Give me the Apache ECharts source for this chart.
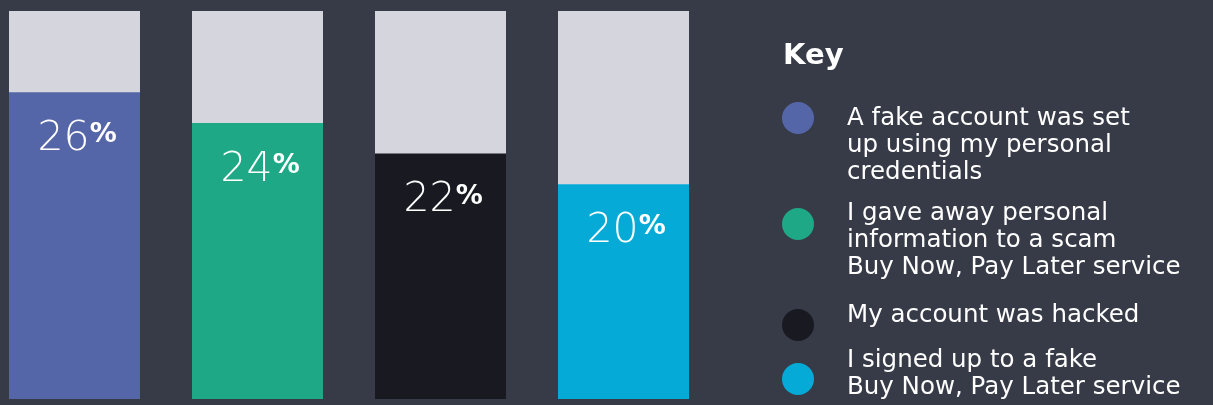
<!DOCTYPE html>
<html><head><meta charset="utf-8">
<script src="https://cdn.jsdelivr.net/npm/echarts@6/dist/echarts.min.js"></script>
<style>html,body{margin:0;padding:0;background:#373B47;}#c{width:1213px;height:405px;}</style>
</head><body><div id="c"></div>
<script>
const categories = ['fake-account', 'gave-info', 'hacked', 'signed-up'];
const values = [26, 24, 22, 20];
const colors = ['#5566A8', '#1FA886', '#191A21', '#05ABD6'];
const keyTitle = 'Key';
const keyLabels = [
  'A fake account was set\nup using my personal\ncredentials',
  'I gave away personal\ninformation to a scam\nBuy Now, Pay Later service',
  'My account was hacked',
  'I signed up to a fake\nBuy Now, Pay Later service'
];

const FONT = '"DejaVu Sans", sans-serif';
const chart = echarts.init(document.getElementById('c'));

// legend layout (positions only)
const keyTextTop = [105, 200, 302, 347];
const keyDotY = [118, 224, 325, 379];
const graphic = [{
  type: 'text', left: 783, top: 42,
  style: { text: keyTitle, fill: '#fff', font: 'bold 29px ' + FONT }
}];
keyLabels.forEach((t, i) => {
  graphic.push({ type: 'circle', shape: { cx: 798, cy: keyDotY[i], r: 16 }, style: { fill: colors[i] } });
  graphic.push({
    type: 'text', x: 847, y: keyTextTop[i],
    style: { text: t, fill: '#fff', font: '24.5px ' + FONT, lineHeight: 27, verticalAlign: 'top' }
  });
});

chart.setOption({
  backgroundColor: '#373B47',
  animation: false,
  grid: { left: -17, width: 732, top: 11, bottom: 6, outerBoundsMode: 'none' },
  xAxis: { type: 'category', data: categories, show: false },
  yAxis: { type: 'value', min: 6, max: 31.3, show: false },
  series: [{
    type: 'bar',
    barWidth: 131,
    showBackground: true,
    backgroundStyle: { color: '#D5D5DE' },
    data: values.map((v, i) => ({ value: v, itemStyle: { color: colors[i] } })),
    label: {
      show: true,
      position: ['52%', 47],
      align: 'center',
      verticalAlign: 'middle',
      formatter: p => '{n|' + p.value + '}{p|%}',
      rich: {
        n: { fontSize: 41, fontWeight: 200, color: '#fff', fontFamily: FONT },
        p: { fontSize: 27, fontWeight: 'bold', color: '#fff', fontFamily: FONT, padding: [0, 0, 8, 0] }
      }
    }
  }],
  graphic: graphic
});
</script></body></html>
